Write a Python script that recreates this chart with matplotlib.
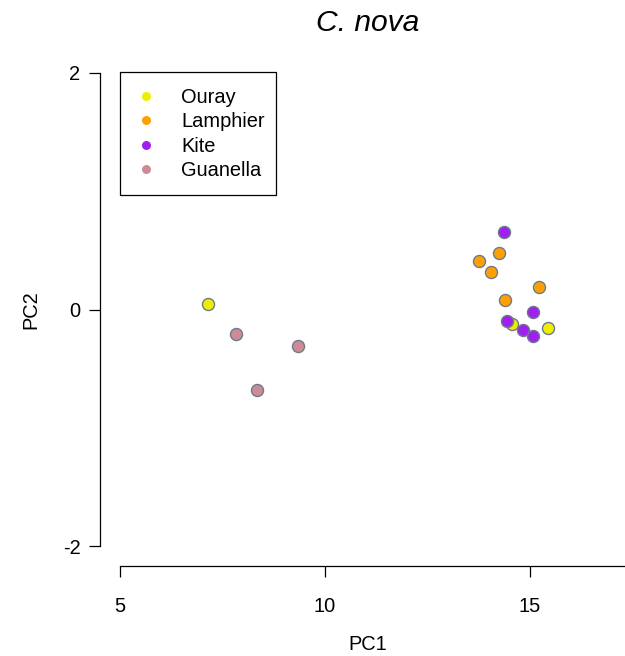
import matplotlib
matplotlib.use("Agg")
import matplotlib.pyplot as plt
from matplotlib.lines import Line2D
from matplotlib.patches import Rectangle

plt.rcParams['font.family'] = ['Liberation Sans', 'DejaVu Sans']
plt.rcParams['axes.unicode_minus'] = False

# PCA scores, one list per site
sites = ['Ouray', 'Lamphier', 'Kite', 'Guanella']
colors = ['#EEEE00', '#FFA000', '#A020F0', '#CD8C95']

ouray_pc1 = [7.14, 14.55, 15.45]
ouray_pc2 = [0.05, -0.12, -0.16]
lamphier_pc1 = [14.24, 13.76, 14.06, 15.22, 14.38]
lamphier_pc2 = [0.48, 0.41, 0.32, 0.19, 0.08]
kite_pc1 = [14.37, 15.08, 14.45, 14.82, 15.08]
kite_pc2 = [0.65, -0.02, -0.10, -0.17, -0.22]
guanella_pc1 = [7.84, 9.33, 8.35]
guanella_pc2 = [-0.21, -0.31, -0.68]

pc1 = [ouray_pc1, lamphier_pc1, kite_pc1, guanella_pc1]
pc2 = [ouray_pc2, lamphier_pc2, kite_pc2, guanella_pc2]

x_ticks = [5, 10, 15]
y_ticks = [-2, 0, 2]

fig = plt.figure(figsize=(6.25, 6.56), dpi=100)
ax = fig.add_axes([0.16, 0.1372, 0.8576, 0.782])

for i in range(len(sites)):
    ax.scatter(pc1[i], pc2[i], s=75, c=colors[i],
               edgecolors='#6C7B8B', linewidths=1.0, zorder=3)

ax.set_xlim(4.512, 17.585)
ax.set_ylim(-2.165, 2.165)

for side in ['top', 'right']:
    ax.spines[side].set_visible(False)
ax.spines['left'].set_bounds(-2, 2)
ax.spines['bottom'].set_bounds(5, 20)
for side in ['left', 'bottom']:
    ax.spines[side].set_linewidth(0.9)

ax.set_xticks(x_ticks)
ax.set_yticks(y_ticks)
ax.tick_params(axis='both', length=8, width=0.9, labelsize=14.4)
ax.tick_params(axis='x', pad=14)
ax.tick_params(axis='y', pad=6)

ax.set_xlabel('PC1', fontsize=14.4, labelpad=14)
ax.set_ylabel('PC2', fontsize=14.4, labelpad=16)
ax.set_title('C. nova', fontsize=21.6, style='italic', pad=16)

# legend entries without frame; the box is drawn separately (R-style tight right edge)
handles = [Line2D([], [], marker='o', linestyle='none', markersize=6.5,
                  markerfacecolor=colors[i], markeredgecolor='none')
           for i in range(len(sites))]
leg = ax.legend(handles, sites, loc='upper left',
                bbox_to_anchor=(120 / 625, 1 - 72 / 656),
                bbox_transform=fig.transFigure, borderaxespad=0,
                fontsize=14.4, frameon=False,
                borderpad=0.8, handlelength=0.95, handletextpad=1.3,
                labelspacing=0.27)
fig.patches.append(Rectangle((120 / 625, 1 - 195 / 656), 156 / 625, 123 / 656,
                             transform=fig.transFigure, fill=False,
                             edgecolor='black', linewidth=0.9))

fig.savefig('out.png', dpi=100)
